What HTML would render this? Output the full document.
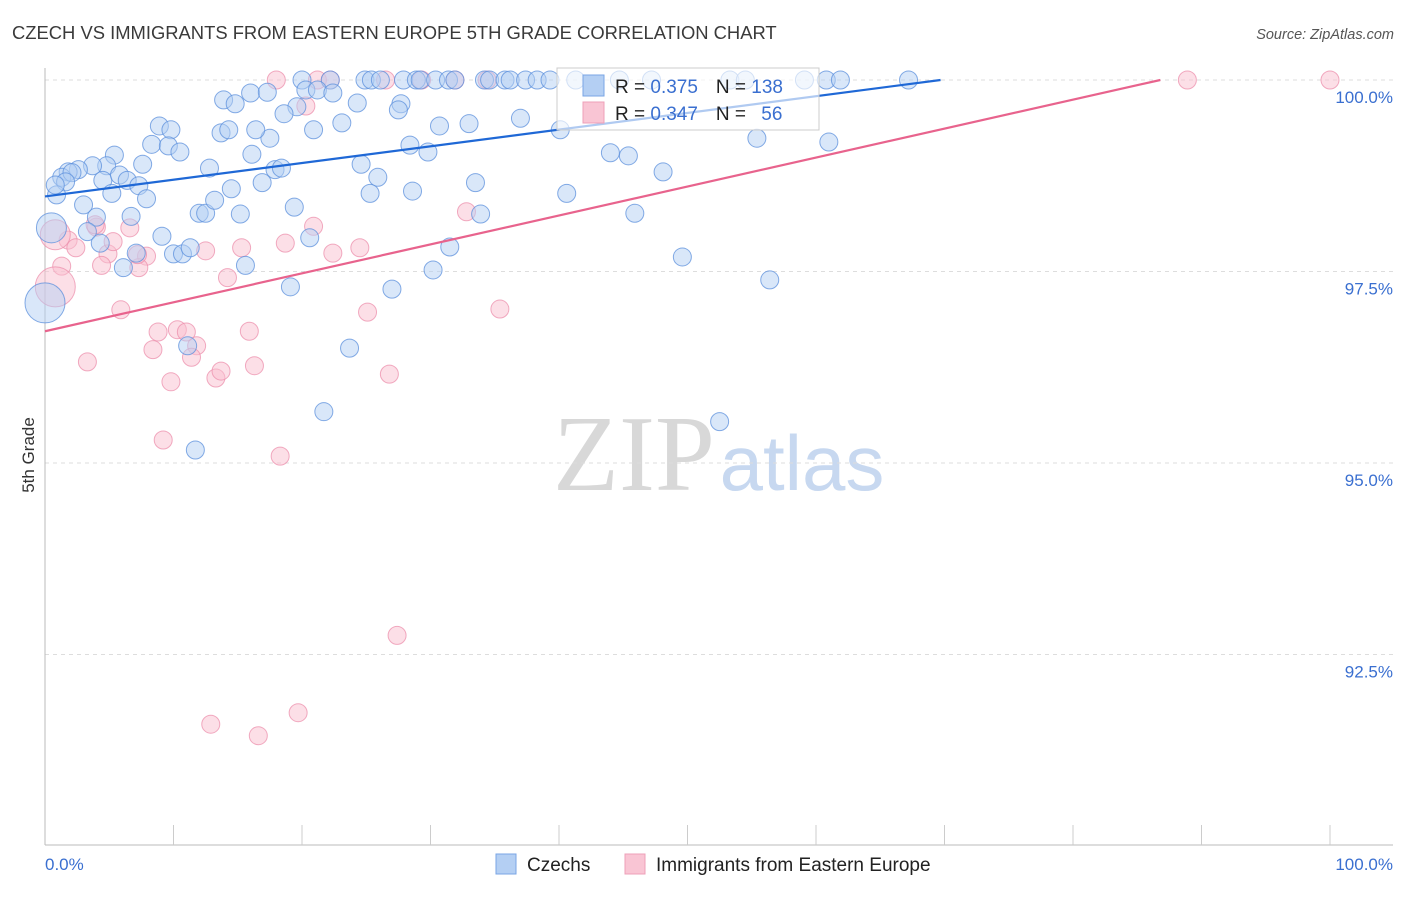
<!DOCTYPE html>
<html><head><meta charset="utf-8"><style>
body{margin:0;background:#fff;width:1406px;height:892px;overflow:hidden;font-family:"Liberation Sans",sans-serif}
</style></head><body>
<svg id="chart" width="1406" height="892" xmlns="http://www.w3.org/2000/svg" font-family="Liberation Sans, sans-serif">
<text x="12" y="39" font-size="18.4" fill="#3a3a3a">CZECH VS IMMIGRANTS FROM EASTERN EUROPE 5TH GRADE CORRELATION CHART</text>
<text x="1394" y="39" font-size="14.5" fill="#555" font-style="italic" text-anchor="end">Source: ZipAtlas.com</text>
<text transform="translate(34,455) rotate(-90)" font-size="17" fill="#333" text-anchor="middle">5th Grade</text>
<g>
<text x="634" y="490" font-size="108" fill="#d8d8d8" font-family="Liberation Serif, serif" text-anchor="middle">ZIP</text>
<text x="802" y="490" font-size="78" fill="#c7d8f0" text-anchor="middle">atlas</text>
</g>
<g id="grid"></g>
<g id="axes"></g>
<g id="marks"></g>
<g id="legend-box">
<rect x="557" y="68" width="262" height="62" fill="#fff" fill-opacity="0.65" stroke="#ccc"/>
<rect x="583" y="75" width="21" height="21" fill="#b4cff3" stroke="#7aa5e5"/>
<rect x="583" y="102" width="21" height="21" fill="#f9c5d4" stroke="#eea0b8"/>
<text x="615" y="93" font-size="19" fill="#222">R = <tspan fill="#3a6fd0">0.375</tspan><tspan dx="18">N = </tspan><tspan fill="#3a6fd0">138</tspan></text>
<text x="615" y="120" font-size="19" fill="#222">R = <tspan fill="#3a6fd0">0.347</tspan><tspan dx="18">N = </tspan><tspan dx="10" fill="#3a6fd0">56</tspan></text>
</g>
<g>
<rect x="496" y="854" width="20" height="20" fill="#b4cff3" stroke="#7aa5e5"/>
<text x="527" y="871" font-size="19" fill="#222">Czechs</text>
<rect x="625" y="854" width="20" height="20" fill="#f9c5d4" stroke="#eea0b8"/>
<text x="656" y="871" font-size="19" fill="#222">Immigrants from Eastern Europe</text>
</g>
</svg>
<script>
const xTicks=[0,100];
const yTicks=[100,97.5,95,92.5];
const yTickLabels=["100.0%","97.5%","95.0%","92.5%"];
const blueX=[20.0,22.2,24.9,25.4,26.1,27.9,28.9,29.2,30.4,31.4,31.9,34.2,34.6,35.8,36.2,37.4,38.3,39.3,41.3,44.7,47.2,53.3,54.5,59.1,60.8,61.9,67.2,
13.9,14.8,16.0,17.3,20.3,21.2,22.4,19.6,18.6,24.3,27.7,27.5,37.0,30.7,33.0,23.1,20.9,13.7,14.3,8.9,9.8,8.3,9.6,10.5,5.4,7.6,4.8,3.7,2.6,1.8,1.3,2.1,1.6,0.9,0.8,4.5,5.8,6.4,7.3,5.2,7.9,3.0,4.0,6.7,3.3,4.3,9.1,10.0,10.7,11.3,7.1,6.1,15.6,12.0,12.5,13.2,14.5,15.2,16.1,17.5,16.9,17.9,18.4,19.4,20.6,19.1,12.8,24.6,25.9,25.3,28.6,28.4,29.8,33.5,33.9,31.5,30.2,27.0,23.7,21.7,11.7,11.1,40.6,40.1,44.0,45.4,45.9,48.1,49.6,56.4,52.5,55.4,61.0,16.4,0.5,0.0];
const blueY=[100,100,100,100,100,100,100,100,100,100,100,100,100,100,100,100,100,100,100,100,100,100,100,100,100,100,100,
99.74,99.69,99.83,99.84,99.87,99.87,99.83,99.65,99.56,99.70,99.69,99.61,99.50,99.40,99.43,99.44,99.35,99.31,99.35,99.40,99.35,99.16,99.14,99.06,99.02,98.90,98.88,98.88,98.83,98.80,98.73,98.79,98.67,98.50,98.63,98.69,98.76,98.69,98.62,98.52,98.45,98.37,98.21,98.22,98.02,97.87,97.96,97.73,97.73,97.81,97.74,97.55,97.58,98.26,98.26,98.43,98.58,98.25,99.03,99.24,98.66,98.83,98.85,98.34,97.94,97.30,98.85,98.90,98.73,98.52,98.55,99.15,99.06,98.66,98.25,97.82,97.52,97.27,96.50,95.67,95.17,96.53,98.52,99.35,99.05,99.01,98.26,98.80,97.69,97.39,95.54,99.24,99.19,99.35,98.07,97.09];
const blueR=[];blueX.forEach(()=>blueR.push(9));blueR[blueR.length-2]=15;blueR[blueR.length-1]=20;
const pinkX=[18.0,21.2,22.2,26.5,29.3,31.9,34.4,88.9,100,20.3,32.8,20.9,24.5,22.4,18.7,15.3,12.5,1.8,2.4,4.0,4.9,5.3,6.6,7.9,7.3,4.4,1.3,5.9,14.2,8.8,10.3,11.0,11.8,8.4,11.4,3.3,9.8,13.3,13.7,15.9,16.3,25.1,26.8,35.4,9.2,18.3,27.4,12.9,16.6,19.7,3.9,7.2,0.8,0.8];
const pinkY=[100,100,100,100,100,100,100,100,100,99.66,98.28,98.09,97.81,97.74,97.87,97.81,97.77,97.91,97.81,98.08,97.73,97.89,98.07,97.70,97.55,97.58,97.57,97.00,97.42,96.71,96.74,96.71,96.53,96.48,96.38,96.32,96.06,96.11,96.20,96.72,96.27,96.97,96.16,97.01,95.30,95.09,92.75,91.59,91.44,91.74,98.11,97.72,97.30,97.98];
const pinkR=[];pinkX.forEach(()=>pinkR.push(9));pinkR[pinkR.length-2]=20;pinkR[pinkR.length-1]=15;
const blueTrend=[98.48,0.02181];
const pinkTrend=[96.72,0.03779];

const NS="http://www.w3.org/2000/svg";
const X0=45,X1=1330,Y100=80,PX=76.6;
const sx=v=>X0+(X1-X0)*v/100;
const sy=v=>Y100+(100-v)*PX;
function mk(tag,attrs,parent){const e=document.createElementNS(NS,tag);for(const k in attrs)e.setAttribute(k,attrs[k]);parent.appendChild(e);return e;}
const grid=document.getElementById('grid'),axes=document.getElementById('axes'),marks=document.getElementById('marks');
yTicks.forEach((t,i)=>{
 const l=mk('line',{x1:X0,x2:1393,y1:sy(t),y2:sy(t),stroke:'#ddd','stroke-dasharray':'4,4'},grid);
 
 
 const tx=mk('text',{x:1393,y:sy(t)+23,'font-size':17,fill:'#3a6fd0','text-anchor':'end'},axes);
 tx.textContent=yTickLabels[i];
 
 
});
const ax=mk('line',{x1:X0,x2:1393,y1:845,y2:845,stroke:'#bbb'},axes);


const ay=mk('line',{x1:X0,x2:X0,y1:68,y2:845,stroke:'#bbb'},axes);


for(let v=10;v<=100;v+=10){
 const t=mk('line',{x1:sx(v),x2:sx(v),y1:825,y2:845,stroke:'#ccc'},axes);
 
 
}
xTicks.forEach(v=>{
 const t=mk('text',{x:v===0?sx(v):1393,y:870,'font-size':17,fill:'#3a6fd0','text-anchor':v===0?'start':'end'},axes);
 t.textContent=v.toFixed(1)+'%';
 
 
});
function dots(xs,ys,rs,fill,stroke,name){
 xs.forEach((x,i)=>{
  const c=mk('circle',{cx:sx(x),cy:sy(ys[i]),r:rs[i],fill:fill,'fill-opacity':0.5,stroke:stroke,'stroke-opacity':0.75,'stroke-width':1},marks);
  
  
 });
}
dots(pinkX,pinkY,pinkR,'#f9c0d0','#ec8fac','immigrant-point');
dots(blueX,blueY,blueR,'#b4cff3','#5b8fdc','czech-point');
function trend(tr,color,name){
 const xe=Math.min(100,(100-tr[0])/tr[1]);
 let d='M'+sx(0)+','+sy(tr[0])+'L'+sx(xe)+','+sy(tr[0]+tr[1]*xe);
 const p=mk('path',{d:d,stroke:color,'stroke-width':2.2,fill:'none'},marks);
 
 
}
trend(blueTrend,'#1f68d6','czech-trend-line');
trend(pinkTrend,'#e8638d','immigrant-trend-line');
document.getElementById('chart').appendChild(document.getElementById('legend-box'));
</script>
</body></html>
